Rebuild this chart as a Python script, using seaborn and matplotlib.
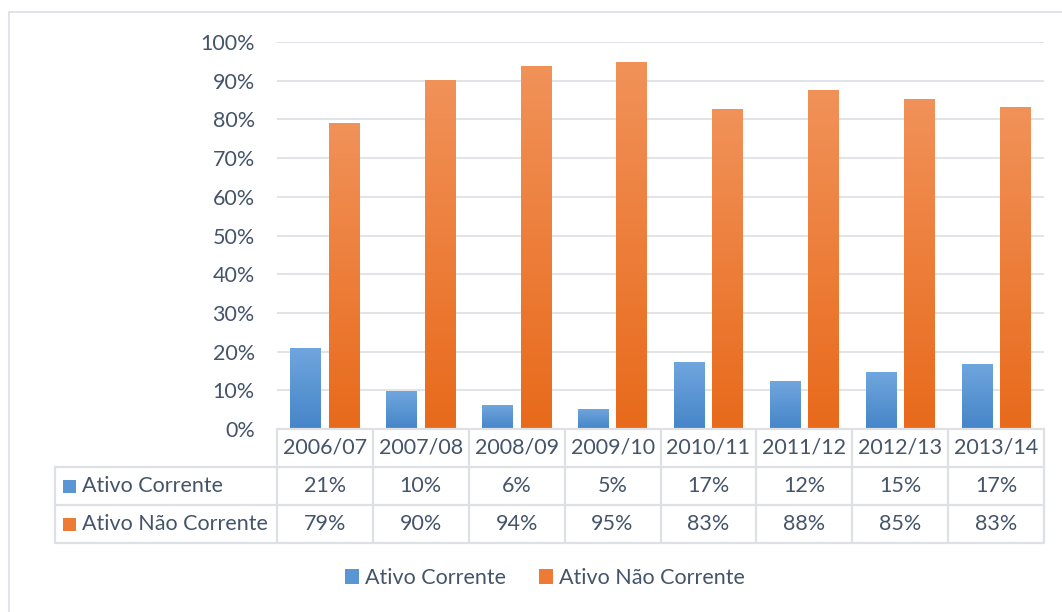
import numpy as np
import pandas as pd
import matplotlib
matplotlib.use("Agg")
import matplotlib.pyplot as plt
import seaborn as sns
from matplotlib.patches import Rectangle
from matplotlib.lines import Line2D
from matplotlib.colors import LinearSegmentedColormap

# Asset structure by fiscal year (% of total assets)
periods = ["2006/07", "2007/08", "2008/09", "2009/10",
           "2010/11", "2011/12", "2012/13", "2013/14"]
ativo_corrente = [21.0, 9.8, 6.2, 5.2, 17.3, 12.3, 14.7, 16.8]
ativo_nao_corrente = [79.0, 90.2, 93.8, 94.8, 82.7, 87.7, 85.3, 83.2]
series_names = ["Ativo Corrente", "Ativo Não Corrente"]
y_ticks = [0, 10, 20, 30, 40, 50, 60, 70, 80, 90, 100]

df = pd.DataFrame({
    "periodo": periods * 2,
    "serie": [series_names[0]] * len(periods) + [series_names[1]] * len(periods),
    "valor": ativo_corrente + ativo_nao_corrente,
})

W, H = 1062, 612
TEXT = "#44546a"
GRID = "#dde1e6"
BLUE_TOP, BLUE_BOT = "#70a6de", "#4585c8"
ORANGE_TOP, ORANGE_BOT = "#f19259", "#e86a1b"
BLUE_MID, ORANGE_MID = "#5a95d4", "#ee7b35"
FS = 15.5

sns.set_theme(style="white")
plt.rcParams["font.family"] = ["Lato", "DejaVu Sans"]

fig = plt.figure(figsize=(W / 100, H / 100), dpi=100)


def fx(x):
    return x / W


def fy(y):
    return 1 - y / H


# plot area
ax_l, ax_r, ax_t, ax_b = 277, 1044, 42, 429
ax = fig.add_axes([fx(ax_l), fy(ax_b), fx(ax_r - ax_l), (ax_b - ax_t) / H])

sns.barplot(data=df, x="periodo", y="valor", hue="serie", order=periods,
            hue_order=series_names, palette=[BLUE_MID, ORANGE_MID],
            width=0.8, gap=0.2, dodge=True, legend=False, ax=ax)

ax.set_xlim(-0.5, len(periods) - 0.5)
ax.set_ylim(0, 100)
ax.set_yticks(y_ticks)
ax.set_yticklabels([f"{v}%" for v in y_ticks], color=TEXT, fontsize=FS)
ax.tick_params(axis="y", length=0, pad=16)
ax.set_xticks([])
ax.set_xlabel("")
ax.set_ylabel("")
for s in ax.spines.values():
    s.set_visible(False)
ax.yaxis.grid(True, color=GRID, lw=1.3)
ax.set_axisbelow(True)

# vertical gradient fill on each bar
cmaps = [LinearSegmentedColormap.from_list("b", [BLUE_BOT, BLUE_TOP]),
         LinearSegmentedColormap.from_list("o", [ORANGE_BOT, ORANGE_TOP])]
grad = np.linspace(0, 1, 256).reshape(-1, 1)
bars = [p for p in ax.patches if isinstance(p, Rectangle) and p.get_height() > 0]
n = len(periods)
for i, bar in enumerate(bars):
    cmap = cmaps[0] if i < n else cmaps[1]
    x0, y0 = bar.get_x(), bar.get_y()
    w, h = bar.get_width(), bar.get_height()
    bar.set_facecolor("none")
    bar.set_edgecolor("none")
    im = ax.imshow(grad, cmap=cmap, origin="lower", aspect="auto",
                   extent=[x0, x0 + w, y0, y0 + h], zorder=3)
    im.set_clip_path(bar)
ax.set_xlim(-0.5, len(periods) - 0.5)
ax.set_ylim(0, 100)

# data table under the plot
col_w = (ax_r - ax_l) / len(periods)
rows_y = [429, 467, 505, 543]
lbl_l = 55


def hline(x0, x1, y):
    fig.add_artist(Line2D([fx(x0), fx(x1)], [fy(y), fy(y)], color=GRID, lw=1.6,
                          transform=fig.transFigure))


def vline(x, y0, y1):
    fig.add_artist(Line2D([fx(x), fx(x)], [fy(y0), fy(y1)], color=GRID, lw=1.6,
                          transform=fig.transFigure))


hline(ax_l, ax_r, rows_y[0])
for y in rows_y[1:]:
    hline(lbl_l, ax_r, y)
vline(lbl_l, rows_y[1], rows_y[3])
for k in range(len(periods) + 1):
    vline(ax_l + k * col_w, rows_y[0], rows_y[3])

for k, p in enumerate(periods):
    cx = ax_l + (k + 0.5) * col_w
    fig.text(fx(cx), fy((rows_y[0] + rows_y[1]) / 2), p, ha="center",
             va="center", color=TEXT, fontsize=FS)
    for r, vals in enumerate([ativo_corrente, ativo_nao_corrente]):
        fig.text(fx(cx), fy((rows_y[r + 1] + rows_y[r + 2]) / 2),
                 f"{round(vals[k])}%", ha="center", va="center",
                 color=TEXT, fontsize=FS)

for r, (name, col) in enumerate(zip(series_names, [BLUE_MID, ORANGE_MID])):
    cy = (rows_y[r + 1] + rows_y[r + 2]) / 2
    fig.add_artist(Rectangle((fx(63), fy(cy + 7)), 13 / W, 13 / H,
                             facecolor=col, edgecolor="none",
                             transform=fig.transFigure))
    fig.text(fx(82), fy(cy), name, ha="left", va="center", color=TEXT,
             fontsize=FS)

# legend
handles = [Rectangle((0, 0), 1, 1, facecolor=BLUE_MID, edgecolor="none"),
           Rectangle((0, 0), 1, 1, facecolor=ORANGE_MID, edgecolor="none")]
fig.legend(handles, series_names, loc="center", ncol=2, frameon=False,
           bbox_to_anchor=(fx(545), fy(578)), fontsize=FS,
           labelcolor=TEXT, handlelength=0.65, handleheight=0.65,
           handletextpad=0.3, columnspacing=1.5)

# chart border
fig.add_artist(Rectangle((fx(9), fy(640)), (1100 - 9) / W, (640 - 12) / H,
                         facecolor="none", edgecolor=GRID, lw=1.3,
                         transform=fig.transFigure))

fig.savefig("out.png", dpi=100, facecolor="white")
